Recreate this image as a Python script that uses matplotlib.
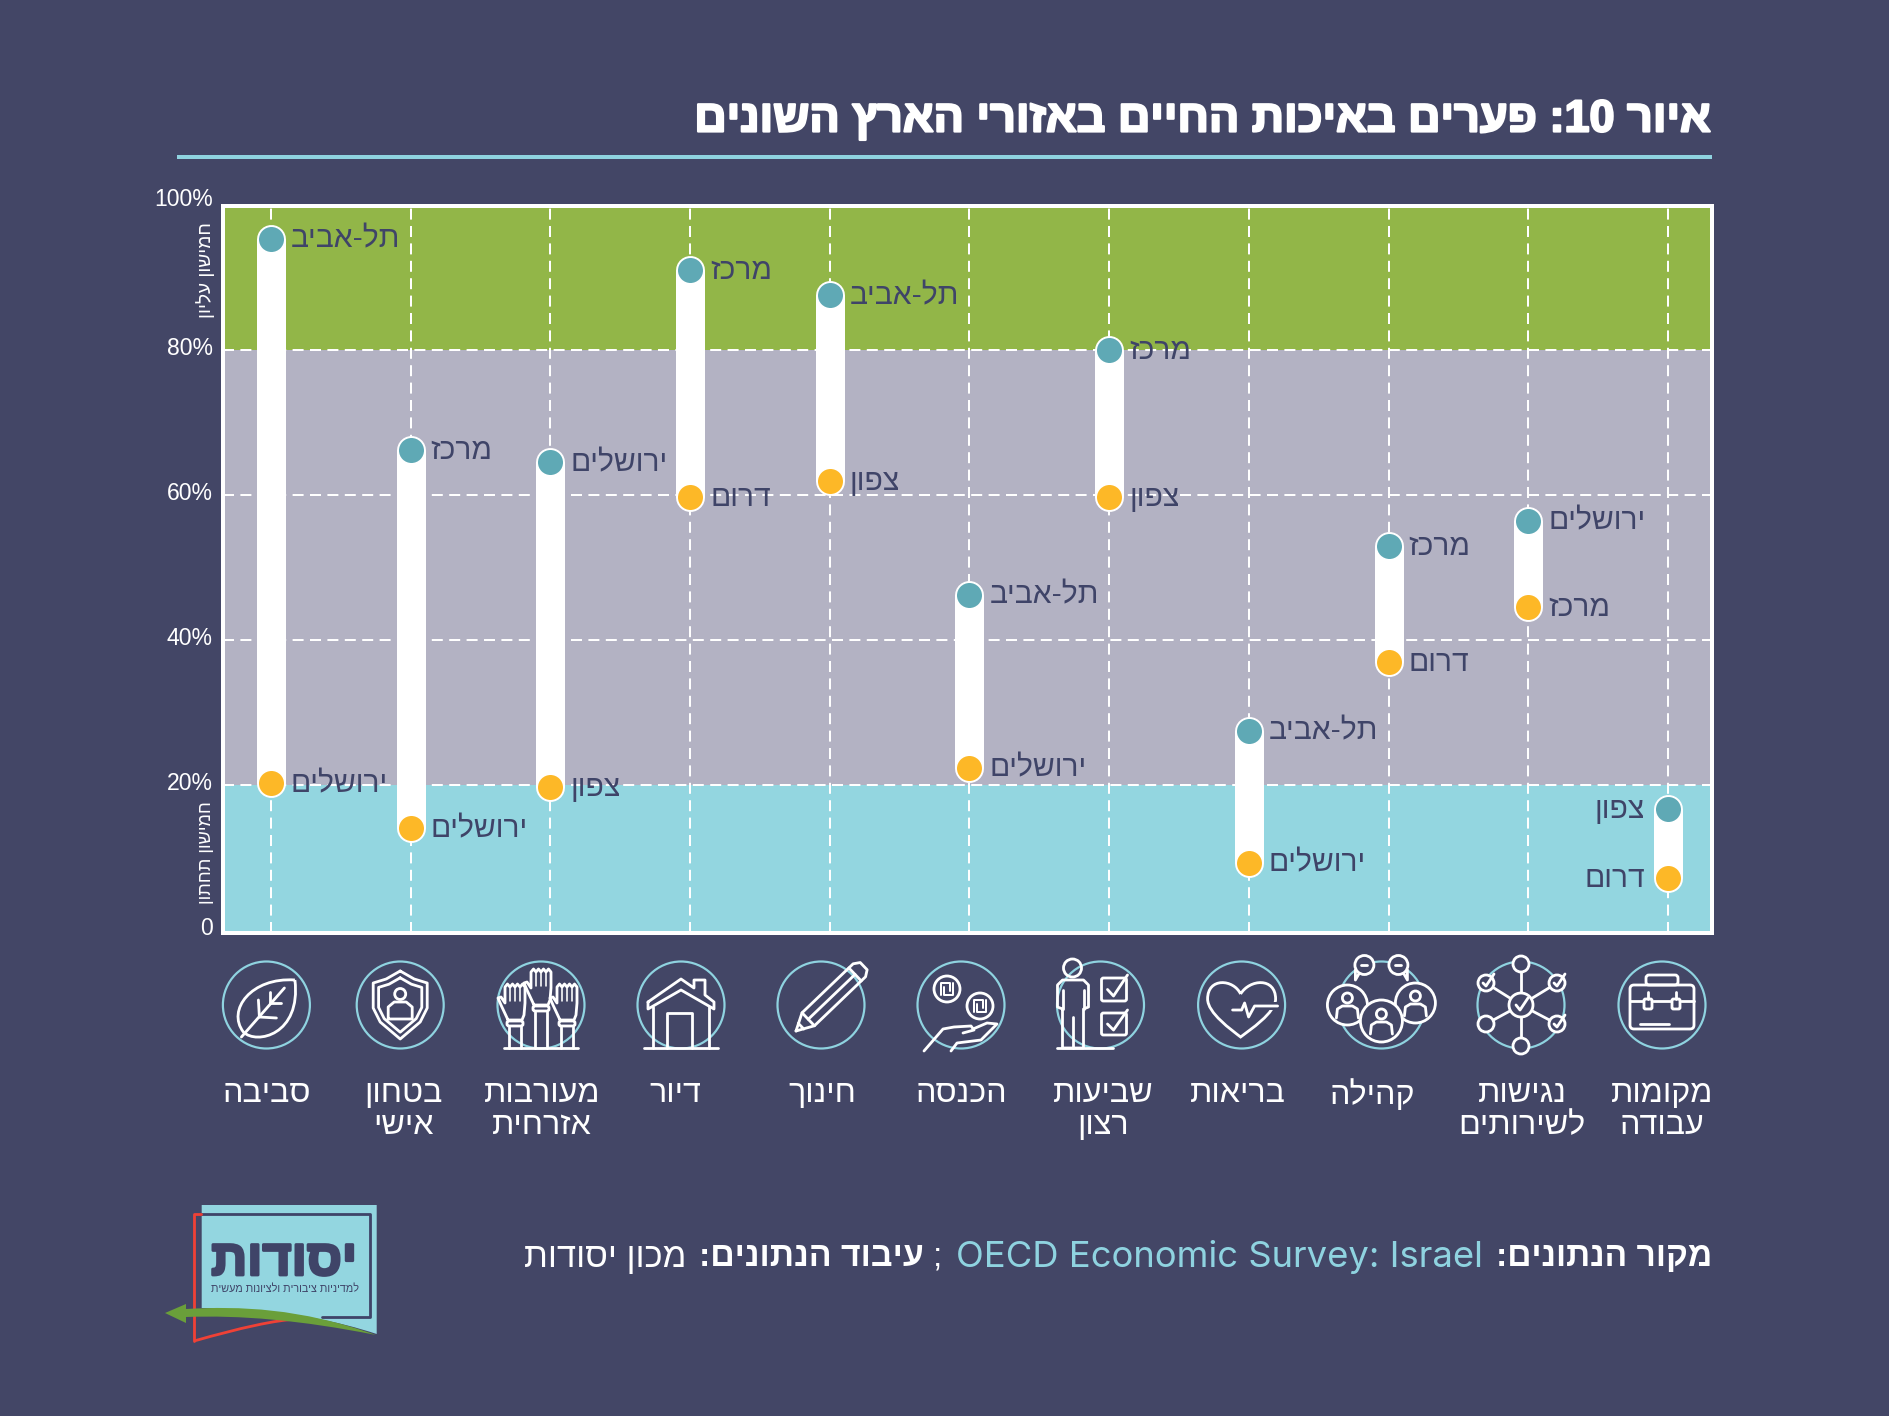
import re
import numpy as np
import matplotlib
matplotlib.use("Agg")
import matplotlib.pyplot as plt
import matplotlib.patheffects as pe
from matplotlib.patches import Circle, Polygon, PathPatch, FancyBboxPatch, Rectangle
from matplotlib.path import Path
from matplotlib.transforms import ScaledTranslation

HEB = ['Liberation Sans', 'DejaVu Sans']
plt.rcParams['font.family'] = HEB

def rtl(s):
    """matplotlib has no bidi: put logical Hebrew text in visual order."""
    lines = []
    for line in s.split('\n'):
        parts = re.findall(r'[0-9A-Za-z]+|[^0-9A-Za-z]', line)
        lines.append(''.join(parts[::-1]))
    return '\n'.join(lines)

# ---------- data ----------
categories = ['סביבה', 'בטחון\nאישי', 'מעורבות\nאזרחית', 'דיור', 'חינוך', 'הכנסה',
              'שביעות\nרצון', 'בריאות', 'קהילה', 'נגישות\nלשירותים', 'מקומות\nעבודה']
top_values = [95.4, 66.2, 64.6, 91.1, 87.6, 46.3, 80.0, 27.5, 53.0, 56.5, 16.7]
bottom_values = [20.3, 14.1, 19.8, 59.8, 62.0, 22.4, 59.8, 9.3, 37.0, 44.6, 7.2]
top_regions = ['תל-אביב', 'מרכז', 'ירושלים', 'מרכז', 'תל-אביב', 'תל-אביב', 'מרכז',
               'תל-אביב', 'מרכז', 'ירושלים', 'צפון']
bottom_regions = ['ירושלים', 'ירושלים', 'צפון', 'דרום', 'צפון', 'ירושלים', 'צפון',
                  'ירושלים', 'דרום', 'מרכז', 'דרום']
y_ticks = [0, 20, 40, 60, 80, 100]
y_tick_labels = ['0', '20%', '40%', '60%', '80%', '100%']
title_text = 'איור 10: פערים באיכות החיים באזורי הארץ השונים'
upper_quintile = 'חמישון עליון'
lower_quintile = 'חמישון תחתון'

BG = '#434666'
DARK = '#3f4468'
CYAN = '#8fd3e0'
GREEN = '#92b648'
GREY = '#b3b2c3'
BAND = '#93d6e0'
TEAL = '#5fa9b5'
AMBER = '#fdb827'
W, H = 1890, 1416
fig = plt.figure(figsize=(W / 100, H / 100), dpi=100, facecolor=BG)
PT = 72 / 100  # points per pixel

# ---------- main chart ----------
L, R, T, B = 222.7, 1712, 205.5, 933
ax = fig.add_axes([L / W, 1 - B / H, (R - L) / W, (B - T) / H])
ax.set_xlim((L - 271) / 139.7, (R - 271) / 139.7)
ax.set_ylim(-0.4, 100)
ax.axhspan(80, 100, color=GREEN, lw=0, zorder=0)
ax.axhspan(20, 80, color=GREY, lw=0, zorder=0)
ax.axhspan(-0.4, 20, color=BAND, lw=0, zorder=0)
xs = np.arange(len(categories))
ax.set_xticks(xs)
ax.set_yticks(y_ticks)
ax.set_yticklabels(y_tick_labels, color='white', fontsize=16.6)
ax.set_xticklabels([])
ax.tick_params(length=0, pad=7)
for lab, tick in zip(ax.get_yticklabels(), y_ticks):
    shift = 9 if tick == 100 else 4
    lab.set_transform(lab.get_transform() + ScaledTranslation(0, shift / 100, fig.dpi_scale_trans))
ax.set_axisbelow(True)
ax.grid(True, color='white', lw=2 * PT, linestyle=(0, (5.5, 3.2)))
for gl, tick in zip(ax.yaxis.get_gridlines(), y_ticks):
    gl.set_visible(tick not in (0, 100))
for s in ax.spines.values():
    s.set_color('white')
    s.set_linewidth(4 * PT)
ax.vlines(xs, bottom_values, top_values, color='white', lw=29 * PT, capstyle='round', zorder=3)
ax.scatter(xs, top_values, s=(25 * PT) ** 2, color=TEAL, edgecolor='white', linewidth=0, zorder=4)
ax.scatter(xs, bottom_values, s=(25 * PT) ** 2, color=AMBER, edgecolor='white', linewidth=0, zorder=4)
for i in xs:
    last = i == xs[-1]
    dx = -23 if last else 20
    for v, name in ((top_values[i], top_regions[i]), (bottom_values[i], bottom_regions[i])):
        ax.annotate(rtl(name), (i, v), xytext=(dx, -1), textcoords='offset pixels',
                    ha='right' if last else 'left', va='center', color=DARK,
                    fontsize=21.6, zorder=5)

# ---------- overlay in pixels ----------
ov = fig.add_axes([0, 0, 1, 1], zorder=10)
ov.set_xlim(0, W)
ov.set_ylim(H, 0)
ov.axis('off')
ov.patch.set_alpha(0)
rend = fig.canvas.get_renderer()

def fit(t, width):
    bb = t.get_window_extent(rend)
    size = max(bb.width, bb.height) if t.get_rotation() else bb.width
    t.set_fontsize(t.get_fontsize() * width / size)
    return t

title = fit(ov.text(1712, 120, rtl(title_text), ha='right', va='center', color='white',
                    fontweight='bold', fontsize=30), 1015)
title.set_path_effects([pe.withStroke(linewidth=1.6, foreground='white')])
ov.plot([177, 1712], [156.5, 156.5], color=CYAN, lw=4 * PT, solid_capstyle='butt')
fit(ov.text(206, 270, rtl(upper_quintile), rotation=90, ha='center', va='center',
            color='white', fontsize=12), 95)
fit(ov.text(206, 853, rtl(lower_quintile), rotation=90, ha='center', va='center',
            color='white', fontsize=12), 103)

# ---------- icons ----------
ICON_LW = 2.8 * PT

def ln(cx, cy, pts, closed=False, lw=ICON_LW):
    p = np.array(pts, float)
    if closed:
        p = np.vstack([p, p[0]])
    ov.plot(cx + p[:, 0], cy + p[:, 1], color='white', lw=lw, solid_capstyle='round',
            solid_joinstyle='round', zorder=5)

def ci(cx, cy, x, y, r, fill=False):
    ov.add_patch(Circle((cx + x, cy + y), r, fc=BG if fill else 'none', ec='white',
                        lw=ICON_LW, zorder=5))

def bez(cx, cy, verts, closed=False):
    v = [(cx + a, cy + b) for a, b in verts]
    codes = [Path.MOVETO] + [Path.CURVE4] * (len(v) - 1)
    ov.add_patch(PathPatch(Path(v, codes), fc='none', ec='white', lw=ICON_LW, zorder=5))

def rbox(cx, cy, x0, y0, x1, y1, r=3):
    ov.add_patch(FancyBboxPatch((cx + x0 + r, cy + y0 + r), x1 - x0 - 2 * r, y1 - y0 - 2 * r,
                                boxstyle=f'round,pad={r},rounding_size={r}', fc='none', ec='white',
                                lw=ICON_LW, zorder=5))

def leaf(c, y):
    bez(c, y, [(28.5, -25), (-15, -28), (-40, 5), (-23, 27), (-10, 40), (35, 30), (28.5, -25)])
    ln(c, y, [(-25, 32), (18, -17)])
    ln(c, y, [(-7, 12), (-8, -5)])
    ln(c, y, [(-7, 12), (10, 13)])
    ln(c, y, [(4, -2), (4, -13)])
    ln(c, y, [(4, -2), (15, -2)])

def shield(c, y):
    for k in (1, 0.8):
        pts = [(0, -34), (-14, -26), (-27, -22), (-27, 3), (-20, 17), (0, 34),
               (20, 17), (27, 3), (27, -22), (14, -26)]
        ln(c, y, [(a * k, b * k) for a, b in pts], closed=True)
    ci(c, y, 0, -11, 5.5)
    ln(c, y, [(-12, 14), (-12, 2), (-6, -3), (6, -3), (12, 2), (12, 14)], closed=True)

def hand(c, y, x0, top):
    pts = [(x0 - 7, top + 37), (x0 - 14, top + 22), (x0 - 17, top + 15), (x0 - 14, top + 14),
           (x0 - 10, top + 20)]
    for i in range(4):
        fx = x0 - 10 + 5 * i
        pts += [(fx, top + 4), (fx + 2.5, top + 1), (fx + 5, top + 4)]
    pts += [(x0 + 10, top + 20), (x0 + 9, top + 32), (x0 + 7, top + 37)]
    ln(c, y, pts, closed=True)
    for i in range(1, 4):
        ln(c, y, [(x0 - 10 + 5 * i, top + 4), (x0 - 10 + 5 * i, top + 18)], lw=1.6 * PT)
    rbox(c, y, x0 - 8, top + 38, x0 + 8, top + 43, 2)
    ln(c, y, [(x0 - 6, top + 44), (x0 - 6, 43)])
    ln(c, y, [(x0 + 6, top + 44), (x0 + 6, 43)])

def hands(c, y):
    hand(c, y, -26, -22)
    hand(c, y, 0, -37)
    hand(c, y, 26, -22)
    ln(c, y, [(-37, 43), (37, 43)])

def house(c, y):
    ln(c, y, [(-33, -3), (0, -26), (13, -17), (13, -25), (24, -25), (24, -10), (33, -3),
              (33, 4), (0, -15), (-33, 4)], closed=True)
    ln(c, y, [(-28, 2), (-28, 43)])
    ln(c, y, [(28, 2), (28, 43)])
    ln(c, y, [(-14, 43), (-14, 8), (11, 8), (11, 43)])
    ln(c, y, [(-37, 43), (37, 43)])

def pencil(c, y):
    tip = np.array([-25.0, 26.0])
    u = np.array([0.72, -0.69])
    n = np.array([0.69, 0.72])
    a = tip + u * 17 + n * 9
    b = tip + u * 17 - n * 9
    e1 = tip + u * 88 + n * 9
    e2 = tip + u * 88 - n * 9
    end = tip + u * 94
    ln(c, y, [tip, a, e1, end + n * 5, end - n * 5, e2, b], closed=True)
    ln(c, y, [a, b])
    ln(c, y, [tip + u * 17, tip + u * 82])
    ln(c, y, [tip + u * 82 + n * 9, tip + u * 82 - n * 9])
    ln(c, y, [tip + u * 7 + n * 4, tip + u * 7 - n * 4])

def sheqel(c, y, x0, y0):
    ln(c, y, [(x0 - 6, y0 + 6), (x0 - 6, y0 - 6), (x0 + 3, y0 - 6), (x0 + 3, y0 + 2)], lw=2 * PT)
    ln(c, y, [(x0 + 6, y0 - 6), (x0 + 6, y0 + 6), (x0 - 3, y0 + 6), (x0 - 3, y0 - 2)], lw=2 * PT)

def coins(c, y):
    for x0, y0 in ((-14, -16), (19, 1)):
        ci(c, y, x0, y0, 13)
        sheqel(c, y, x0, y0)
    ln(c, y, [(-37, 46), (-18, 24), (-7, 22), (10, 21), (13, 25), (2, 28)])
    ln(c, y, [(12, 24), (26, 18), (36, 19), (20, 35), (-4, 38), (-10, 46)])

def people_check(c, y):
    ci(c, y, -28, -37, 9)
    ln(c, y, [(-38, 4), (-43, 2), (-43, -20), (-38, -25), (-17, -25), (-12, -20), (-12, 2), (-17, 4),
              (-17, 43), (-38, 43)], closed=True)
    ln(c, y, [(-38, -15), (-38, 4)])
    ln(c, y, [(-17, -15), (-17, 4)])
    ln(c, y, [(-27.5, 12), (-27.5, 43)])
    ln(c, y, [(-44, 43), (12, 43)])
    for y0, y1 in ((-27, -4), (8, 30)):
        rbox(c, y, 1, y0, 26, y1, 2)
        ln(c, y, [(7, (y0 + y1) / 2), (13, y1 - 5), (27, y0 - 3)])

def heart(c, y):
    bez(c, y, [(-1, -11), (-8, -26), (-34, -28), (-34, -6), (-34, 8), (-10, 25), (-1, 32),
               (8, 25), (34, 8), (34, -6), (34, -28), (8, -26), (-1, -11)])
    ov.add_patch(Rectangle((c + 14, y - 3), 24, 8, fc=BG, ec='none', zorder=5.5))
    ln(c, y, [(-9, 5), (0, 5), (3, -2), (7, 12), (13, 1), (36, 1)])
    ov.lines[-1].set_zorder(6)

def person(c, y, x0, y0, k=1.0):
    ci(c, y, x0, y0 - 7 * k, 5 * k)
    ln(c, y, [(x0 - 11 * k, y0 + 13 * k), (x0 - 10 * k, y0 + 4 * k), (x0 - 5 * k, y0 + 1 * k),
              (x0 + 5 * k, y0 + 1 * k), (x0 + 10 * k, y0 + 4 * k), (x0 + 11 * k, y0 + 13 * k)])

def community(c, y):
    for x0, y0, r in ((-34, 0, 20), (34, -2, 20), (0, 16, 21)):
        ci(c, y, x0, y0, r, fill=True)
        person(c, y, x0, y0, 1.0)
    for x0, d in ((-17, -1), (17, 1)):
        ln(c, y, [(x0 + d * 5, -32), (x0 + d * 9, -25), (x0 + d * 9, -35)])
        ci(c, y, x0, -40, 9.5, fill=True)
        ln(c, y, [(x0 - 3, -40), (x0 + 3, -40)])

def network(c, y):
    nodes = [(0, -41), (0, 41), (-35, -22), (36, -22), (-35, 19), (36, 19)]
    for x0, y0 in nodes:
        ln(c, y, [(0, 0), (x0, y0)])
    for x0, y0 in nodes:
        ci(c, y, x0, y0, 8, fill=True)
    ci(c, y, 0, 0, 12, fill=True)
    ln(c, y, [(-5, 0), (-1, 5), (7, -7)])
    for x0, y0 in nodes[2:4] + nodes[5:]:
        ln(c, y, [(x0 - 3, y0), (x0, y0 + 3), (x0 + 8, y0 - 9)])

def briefcase(c, y):
    rbox(c, y, -32, -20, 32, 24, 4)
    rbox(c, y, -16, -30, 16, -20, 3)
    ln(c, y, [(-32, -4), (-19, -4)])
    ln(c, y, [(-9, -4), (9, -4)])
    ln(c, y, [(19, -4), (32, -4)])
    for x0 in (-14, 14):
        rbox(c, y, x0 - 4, -6, x0 + 4, 4, 1.5)
        ln(c, y, [(x0, -6), (x0, -13)])
    ln(c, y, [(-22, 19), (7, 19)])

icon_funcs = [leaf, shield, hands, house, pencil, coins, people_check, heart, community, network, briefcase]
icon_x = [266.4, 400.2, 541, 681, 821, 961, 1100.5, 1241.6, 1381.4, 1521, 1662]
label_x = [266.4, 403, 542, 675, 822, 961, 1103, 1238, 1372, 1522, 1662]
for f, cx, lx, name in zip(icon_funcs, icon_x, label_x, categories):
    ov.add_patch(Circle((cx, 1005), 43.5, fc='none', ec=CYAN, lw=2.2 * PT, zorder=4))
    f(cx, 1005)
    ov.text(lx, 1079, rtl(name), ha='center', va='top', color='white', fontsize=23.2,
            linespacing=1.08)

# ---------- footer ----------
FY = 1257
pieces = [('מקור הנתונים:', 1712, 217, 'white', 'bold', None),
          ('OECD Economic Survey: Israel', 1483, 528, CYAN, 'normal', ['Inter']),
          (';', 942, 5, 'white', 'normal', None),
          ('עיבוד הנתונים:', 924, 225, 'white', 'bold', None),
          ('מכון יסודות', 686, 163, 'white', 'normal', None)]
for s, xr, w, col, wt, fam in pieces:
    txt = s if fam else rtl(s)
    t = ov.text(xr, FY, txt, ha='right', va='center', color=col, fontweight=wt,
                family=fam or HEB, fontsize=24)
    if len(s) > 1:
        fit(t, w)

# ---------- logo ----------
cyan_path = Path([(201.7, 1205), (376.7, 1205), (376.7, 1334), (340, 1322), (290, 1310), (201.7, 1308), (201.7, 1205)],
                 [Path.MOVETO, Path.LINETO, Path.LINETO, Path.CURVE4, Path.CURVE4, Path.CURVE4, Path.CLOSEPOLY])
ov.add_patch(PathPatch(cyan_path, fc=BAND, ec='none', zorder=2))
ln(0, 0, [(201, 1214), (370, 1214), (370, 1317), (322, 1317)], lw=2.8 * PT)
ov.lines[-1].set_color(DARK)
ln(0, 0, [(201, 1214), (194, 1214), (194, 1341)], lw=2.8 * PT)
ov.lines[-1].set_color('#ef4136')
ov.add_patch(PathPatch(Path([(194, 1341), (240, 1328), (275, 1320), (298, 1319)],
                            [Path.MOVETO] + [Path.CURVE4] * 3),
                       fc='none', ec='#ef4136', lw=2.8 * PT, zorder=3))
arrow = Path([(165, 1313), (186, 1304), (186, 1309), (240, 1306), (300, 1308), (376, 1335),
              (300, 1320), (240, 1315), (186, 1317), (186, 1323), (165, 1313)],
             [Path.MOVETO, Path.LINETO, Path.LINETO, Path.CURVE4, Path.CURVE4, Path.CURVE4,
              Path.CURVE4, Path.CURVE4, Path.CURVE4, Path.LINETO, Path.CLOSEPOLY])
ov.add_patch(PathPatch(arrow, fc='#6a9f3a', ec='none', zorder=6))
big = fit(ov.text(284, 1262, rtl('יסודות'), ha='center', va='center', color=DARK, fontweight='bold',
                  fontsize=40), 146)
big.set_path_effects([pe.withStroke(linewidth=2, foreground=DARK)])
fit(ov.text(285, 1289, rtl('למדיניות ציבורית ולציונות מעשית'), ha='center', va='center',
            color=DARK, fontsize=10), 148)

fig.savefig('out.png', dpi=100, facecolor=BG)
